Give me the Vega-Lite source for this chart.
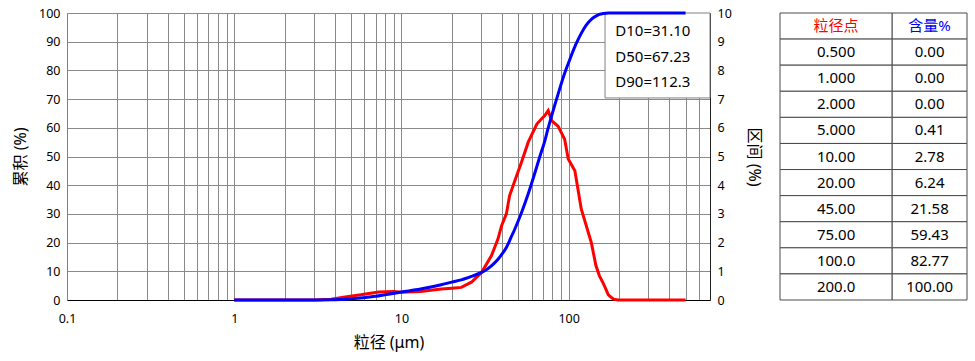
{
  "$schema": "https://vega.github.io/schema/vega-lite/v6.json",
  "background": "white",
  "padding": {"left": 12, "top": 7, "right": 5, "bottom": 5},
  "spacing": 70,
  "bounds": "flush",
  "config": {
    "view": {"stroke": null},
    "font": "Noto Sans, Noto Sans CJK SC, sans-serif",
    "axis": {
      "labelFontSize": 12.5,
      "labelColor": "#000000",
      "titleColor": "#000000",
      "titleFontSize": 16,
      "titleFontWeight": "normal",
      "ticks": false,
      "labelFlush": false,
      "labelOverlap": false,
      "labelBound": false,
      "domainWidth": 1
    }
  },
  "datasets": {
    "cum": [
      {"size": 1, "cum": 0}, {"size": 2, "cum": 0}, {"size": 3, "cum": 0}, {"size": 3.8, "cum": 0.05},
      {"size": 5, "cum": 0.41}, {"size": 7, "cum": 1.3}, {"size": 10, "cum": 2.78}, {"size": 13, "cum": 3.8},
      {"size": 17.3, "cum": 5.3}, {"size": 20, "cum": 6.24}, {"size": 22.8, "cum": 7.0}, {"size": 26.2, "cum": 8.2},
      {"size": 30.1, "cum": 9.6}, {"size": 31.1, "cum": 10}, {"size": 34.5, "cum": 11.9}, {"size": 37.8, "cum": 14.2},
      {"size": 39.7, "cum": 15.8}, {"size": 42.4, "cum": 18.3}, {"size": 44.3, "cum": 20.6}, {"size": 45, "cum": 21.58},
      {"size": 47.3, "cum": 24.3}, {"size": 52.2, "cum": 30.4}, {"size": 57.3, "cum": 37.0}, {"size": 64.5, "cum": 46.5},
      {"size": 67.23, "cum": 50}, {"size": 71.8, "cum": 55.2}, {"size": 75, "cum": 59.43}, {"size": 79.1, "cum": 64.2},
      {"size": 86.6, "cum": 71.9}, {"size": 94.6, "cum": 79.0}, {"size": 100, "cum": 82.77}, {"size": 108.9, "cum": 88.3},
      {"size": 112.3, "cum": 90}, {"size": 118.9, "cum": 92.9}, {"size": 127, "cum": 95.7}, {"size": 136.6, "cum": 97.8},
      {"size": 145.5, "cum": 98.9}, {"size": 152.5, "cum": 99.5}, {"size": 161.6, "cum": 99.85}, {"size": 172.7, "cum": 100},
      {"size": 200, "cum": 100}, {"size": 500, "cum": 100}
    ],
    "diff": [
      {"size": 1, "diff": 0}, {"size": 3, "diff": 0}, {"size": 3.8, "diff": 0.03}, {"size": 4.5, "diff": 0.1},
      {"size": 5.7, "diff": 0.18}, {"size": 7.3, "diff": 0.28}, {"size": 9, "diff": 0.3}, {"size": 10, "diff": 0.27},
      {"size": 13, "diff": 0.3}, {"size": 17.3, "diff": 0.38}, {"size": 20, "diff": 0.41}, {"size": 22.8, "diff": 0.44},
      {"size": 26.2, "diff": 0.62}, {"size": 30.1, "diff": 0.96}, {"size": 34.5, "diff": 1.54}, {"size": 37.8, "diff": 2.13},
      {"size": 39.7, "diff": 2.59}, {"size": 42.4, "diff": 3.0}, {"size": 44.3, "diff": 3.63}, {"size": 47.3, "diff": 4.1},
      {"size": 52.2, "diff": 4.8}, {"size": 57.3, "diff": 5.5}, {"size": 64.5, "diff": 6.13}, {"size": 69.4, "diff": 6.33},
      {"size": 71.8, "diff": 6.42}, {"size": 75.4, "diff": 6.6}, {"size": 79.1, "diff": 6.25}, {"size": 86.6, "diff": 6.05},
      {"size": 94.6, "diff": 5.6}, {"size": 99.4, "diff": 4.91}, {"size": 108.9, "diff": 4.5}, {"size": 118.9, "diff": 3.17},
      {"size": 136.6, "diff": 2.0}, {"size": 145.5, "diff": 1.2}, {"size": 152.5, "diff": 0.85}, {"size": 161.6, "diff": 0.56},
      {"size": 172.7, "diff": 0.18}, {"size": 185, "diff": 0.03}, {"size": 198, "diff": 0}, {"size": 500, "diff": 0}
    ],
    "table": [
      {"row": 0, "a": "粒径点", "b": "含量%"},
      {"row": 1, "a": "0.500", "b": "0.00"},
      {"row": 2, "a": "1.000", "b": "0.00"},
      {"row": 3, "a": "2.000", "b": "0.00"},
      {"row": 4, "a": "5.000", "b": "0.41"},
      {"row": 5, "a": "10.00", "b": "2.78"},
      {"row": 6, "a": "20.00", "b": "6.24"},
      {"row": 7, "a": "45.00", "b": "21.58"},
      {"row": 8, "a": "75.00", "b": "59.43"},
      {"row": 9, "a": "100.0", "b": "82.77"},
      {"row": 10, "a": "200.0", "b": "100.00"}
    ]
  },
  "hconcat": [
    {
      "width": 643,
      "height": 287,
      "layer": [
        {
          "data": {"name": "diff"},
          "mark": {"type": "line", "color": "#ff0000", "strokeWidth": 3},
          "encoding": {
            "x": {
              "field": "size", "type": "quantitative",
              "scale": {"type": "log", "domain": [0.1, 700], "nice": false},
              "axis": {
                "values": [0.1, 0.2, 0.3, 0.4, 0.5, 0.6, 0.7, 0.8, 0.9, 1, 2, 3, 4, 5, 6, 7, 8, 9, 10, 20, 30, 40, 50, 60, 70, 80, 90, 100, 200, 300, 400, 500, 600, 700],
                "format": "~g",
                "labelExpr": "datum.value == 0.1 || datum.value == 1 || datum.value == 10 || datum.value == 100 ? datum.label : ''",
                "grid": true, "gridColor": "#8a8a8a", "gridWidth": 1,
                "domainColor": "#000000",
                "labelPadding": 12,
                "title": "粒径 (μm)", "titlePadding": 10
              }
            },
            "y": {
              "field": "diff", "type": "quantitative",
              "scale": {"domain": [0, 10], "nice": false},
              "axis": {
                "orient": "right", "values": [0, 1, 2, 3, 4, 5, 6, 7, 8, 9, 10], "grid": false,
                "domainColor": "#202020", "labelPadding": 7,
                "title": "区间 (%)", "titlePadding": 14
              }
            }
          }
        },
        {
          "layer": [
            {
              "data": {"values": [{}]},
              "mark": {"type": "rect", "fill": "#ffffff", "stroke": "#808080", "strokeWidth": 1},
              "encoding": {
                "x": {"datum": 165, "type": "quantitative"},
                "x2": {"datum": 700},
                "y": {
                  "datum": 100, "type": "quantitative",
                  "scale": {"domain": [0, 100], "nice": false},
                  "axis": {
                    "orient": "left", "values": [0, 10, 20, 30, 40, 50, 60, 70, 80, 90, 100],
                    "grid": true, "gridColor": "#8a8a8a", "gridWidth": 1,
                    "domainColor": "#808080", "labelPadding": 7,
                    "title": "累积 (%)", "titlePadding": 10
                  }
                },
                "y2": {"datum": 70.4}
              }
            },
            {
              "data": {"name": "cum"},
              "mark": {"type": "line", "color": "#0000ff", "strokeWidth": 3, "interpolate": "monotone"},
              "encoding": {
                "x": {"field": "size", "type": "quantitative"},
                "y": {
                  "field": "cum", "type": "quantitative",
                  "scale": {"domain": [0, 100], "nice": false},
                  "axis": {
                    "orient": "left", "values": [0, 10, 20, 30, 40, 50, 60, 70, 80, 90, 100],
                    "grid": true, "gridColor": "#8a8a8a", "gridWidth": 1,
                    "domainColor": "#808080", "labelPadding": 7,
                    "title": "累积 (%)", "titlePadding": 10
                  }
                }
              }
            },
            {
              "data": {"values": [{}]},
              "mark": {"type": "text", "align": "left", "baseline": "middle", "fontSize": 15, "lineHeight": 25.5, "color": "#000000",
                       "text": ["D10=31.10", "D50=67.23", "D90=112.3"]},
              "encoding": {
                "x": {"datum": 190, "type": "quantitative"},
                "y": {
                  "datum": 93.7, "type": "quantitative",
                  "scale": {"domain": [0, 100], "nice": false},
                  "axis": {
                    "orient": "left", "values": [0, 10, 20, 30, 40, 50, 60, 70, 80, 90, 100],
                    "grid": true, "gridColor": "#8a8a8a", "gridWidth": 1,
                    "domainColor": "#808080", "labelPadding": 7,
                    "title": "累积 (%)", "titlePadding": 10
                  }
                }
              }
            }
          ]
        }
      ],
      "resolve": {"scale": {"y": "independent"}}
    },
    {
      "width": 187,
      "height": 287,
      "data": {"name": "table"},
      "encoding": {
        "y": {"field": "row", "type": "ordinal", "axis": null, "scale": {"paddingInner": 0, "paddingOuter": 0}}
      },
      "layer": [
        {
          "mark": {"type": "rect", "fill": "#ffffff", "stroke": "#4a4a4a", "strokeWidth": 1},
          "encoding": {
            "x": {"datum": 0, "type": "quantitative", "scale": {"domain": [0, 1], "nice": false, "zero": false}, "axis": null},
            "x2": {"datum": 0.6}
          }
        },
        {
          "mark": {"type": "rect", "fill": "#ffffff", "stroke": "#4a4a4a", "strokeWidth": 1},
          "encoding": {
            "x": {"datum": 0.6, "type": "quantitative"},
            "x2": {"datum": 1}
          }
        },
        {
          "mark": {"type": "text", "fontSize": 15},
          "encoding": {
            "x": {"datum": 0.3, "type": "quantitative"},
            "text": {"field": "a"},
            "color": {"condition": {"test": "datum.row === 0", "value": "#ff0000"}, "value": "#000000"}
          }
        },
        {
          "mark": {"type": "text", "fontSize": 15},
          "encoding": {
            "x": {"datum": 0.8, "type": "quantitative"},
            "text": {"field": "b"},
            "color": {"condition": {"test": "datum.row === 0", "value": "#0000ff"}, "value": "#000000"}
          }
        }
      ]
    }
  ]
}
